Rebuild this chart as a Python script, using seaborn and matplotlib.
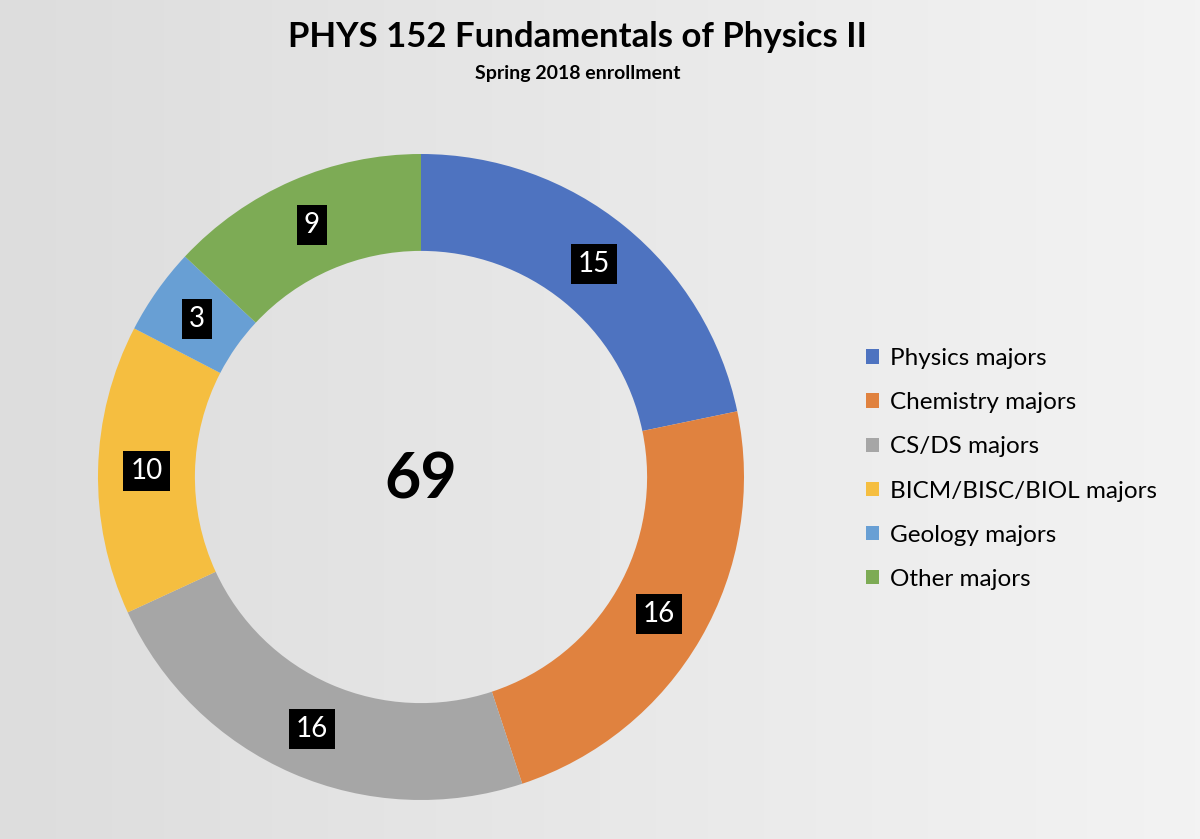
import numpy as np
import matplotlib
matplotlib.use("Agg")
import matplotlib.pyplot as plt
from matplotlib.patches import Patch
import seaborn as sns

# data
majors = ["Physics majors", "Chemistry majors", "CS/DS majors",
          "BICM/BISC/BIOL majors", "Geology majors", "Other majors"]
counts = [15, 16, 16, 10, 3, 9]
colors = ["#4e73c0", "#e0823f", "#a6a6a6", "#f5be40", "#689fd4", "#7dab55"]

sns.set_style("white")
plt.rcParams["font.family"] = ["Lato", "DejaVu Sans"]
plt.rcParams["text.color"] = "black"

fig = plt.figure(figsize=(12, 8.39), dpi=100)

# background gradient
bg = fig.add_axes([0, 0, 1, 1], zorder=0)
grad = np.linspace(0, 1, 256).reshape(1, -1)
bg.imshow(grad, aspect="auto", extent=[0, 1, 0, 1],
          cmap=matplotlib.colors.LinearSegmentedColormap.from_list("bg", ["#dddddd", "#f3f3f3"]))
bg.axis("off")

# donut
cx, cy, r = 421, 477, 323
ax = fig.add_axes([(cx - r) / 1200, (839 - cy - r) / 839, 2 * r / 1200, 2 * r / 839], zorder=1)
ax.set_facecolor("none")
wedges, _ = ax.pie(counts, colors=colors, startangle=90, counterclock=False,
                   radius=1, wedgeprops=dict(width=0.30, edgecolor="none"))
ax.set_xlim(-1, 1)
ax.set_ylim(-1, 1)
ax.axis("off")

total = sum(counts)
ang = 90.0
for v in counts:
    mid = np.deg2rad(ang - v / total * 360 / 2)
    ax.text(0.85 * np.cos(mid), 0.85 * np.sin(mid), str(v), color="white",
            fontsize=20, ha="center", va="center",
            bbox=dict(boxstyle="square,pad=0.25", fc="black", ec="none"))
    ang -= v / total * 360

ax.text(0, -0.01, str(total), fontsize=45, fontweight="bold", ha="center", va="center")

fig.text(578 / 1200, 1 - 37 / 839, "PHYS 152 Fundamentals of Physics II",
         fontsize=25, fontweight="bold", ha="center", va="center")
fig.text(578 / 1200, 1 - 73 / 839, "Spring 2018 enrollment",
         fontsize=14, fontweight="bold", ha="center", va="center")

handles = [Patch(facecolor=c, edgecolor="none") for c in colors]
fig.legend(handles, majors, loc="center left", bbox_to_anchor=(844 / 1200, 1 - 469 / 839),
           frameon=False, fontsize=17.5, handlelength=0.55, handleheight=0.55,
           handletextpad=0.45, labelspacing=0.95)

fig.savefig("out.png", dpi=100)
